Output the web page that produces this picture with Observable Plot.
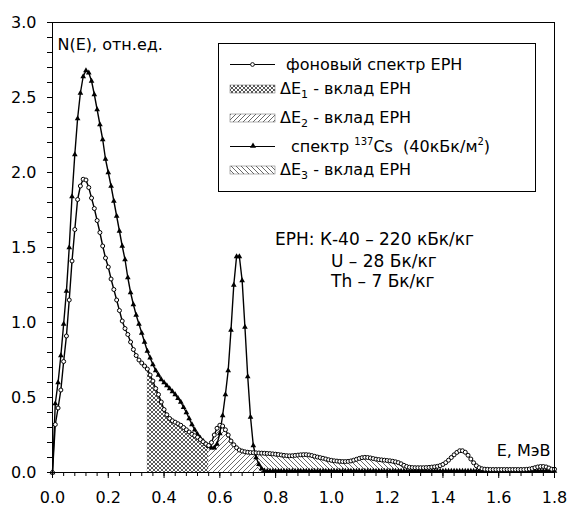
<!DOCTYPE html>
<html><head><meta charset="utf-8">
<script src="https://cdn.jsdelivr.net/npm/d3@7"></script>
<script src="https://cdn.jsdelivr.net/npm/@observablehq/plot@0.6"></script>
<style>body{margin:0;background:#fff} svg{display:block} text{white-space:pre}</style>
</head><body><div id="chart"></div>
<script>
// Background spectrum (ЕРН), 0.00..1.80 MeV in 0.01 MeV steps
const bgValues = [
0,0.32,0.43,0.55,0.74,0.91,1.15,1.41,1.62,1.82,
1.91,1.955,1.95,1.90,1.83,1.76,1.68,1.60,1.51,1.43,
1.37,1.29,1.22,1.15,1.08,1.01,0.96,0.92,0.87,0.82,
0.78,0.75,0.73,0.71,0.69,0.65,0.61,0.56,0.52,0.47,
0.42,0.385,0.36,0.345,0.335,0.325,0.315,0.30,0.285,0.27,
0.255,0.245,0.235,0.22,0.205,0.19,0.18,0.20,0.25,0.295,
0.315,0.31,0.285,0.25,0.21,0.185,0.165,0.15,0.143,0.138,
0.135,0.133,0.132,0.131,0.130,0.129,0.128,0.127,0.126,0.124,
0.122,0.12,0.117,0.114,0.112,0.111,0.112,0.114,0.116,0.118,
0.119,0.119,0.117,0.113,0.108,0.103,0.099,0.095,0.09,0.085,
0.081,0.078,0.076,0.074,0.073,0.073,0.074,0.077,0.082,0.088,
0.094,0.099,0.101,0.10,0.097,0.093,0.089,0.086,0.084,0.082,
0.08,0.078,0.075,0.071,0.066,0.058,0.048,0.04,0.035,0.033,
0.032,0.032,0.032,0.032,0.033,0.034,0.036,0.038,0.041,0.046,
0.054,0.066,0.082,0.10,0.118,0.134,0.145,0.145,0.135,0.115,
0.09,0.065,0.045,0.032,0.025,0.022,0.021,0.02,0.02,0.02,
0.02,0.02,0.02,0.02,0.02,0.02,0.02,0.02,0.02,0.02,
0.021,0.023,0.027,0.032,0.037,0.04,0.04,0.037,0.03,0.022,
0.022
];
// 137Cs spectrum (40 кБк/м2)
const csValues = [
0,0.46,0.60,0.78,0.99,1.21,1.50,1.84,2.12,2.36,
2.53,2.64,2.68,2.665,2.61,2.52,2.42,2.32,2.22,2.09,
2.00,1.91,1.81,1.71,1.61,1.51,1.42,1.30,1.20,1.12,
1.05,0.99,0.93,0.87,0.81,0.765,0.72,0.68,0.65,0.62,
0.60,0.58,0.56,0.54,0.52,0.495,0.47,0.435,0.40,0.36,
0.32,0.285,0.255,0.23,0.21,0.19,0.175,0.165,0.165,0.19,
0.26,0.38,0.52,0.68,0.95,1.25,1.44,1.44,1.28,0.97,
0.64,0.37,0.18,0.10,0.055,0.025,0.012,0.01,0.01,0.01,
0.01,0.01,0.01,0.01,0.01,0.01,0.01,0.01,0.01,0.01,
0.01,0.01,0.01,0.01,0.01,0.01,0.01,0.01,0.01,0.01,
0.01,0.01,0.01,0.01,0.01,0.01,0.01,0.01,0.01,0.01,
0.01,0.01,0.01,0.01,0.01,0.01,0.01,0.01,0.01,0.01,
0.01,0.01,0.01,0.01,0.01,0.01,0.01,0.01,0.01,0.01,
0.01,0.01,0.01,0.01,0.01,0.01,0.01,0.01,0.01,0.01,
0.01,0.01,0.01,0.01,0.01,0.01,0.01,0.01,0.01,0.01,
0.01,0.01,0.01,0.01,0.01,0.01,0.01,0.01,0.01,0.01,
0.01,0.01,0.01,0.01,0.01,0.01,0.01,0.01,0.01,0.01,
0.01,0.01,0.01,0.01,0.01,0.01,0.01,0.01,0.01,0.01,
0.01
];
const energyStep = 0.01; // MeV channel width
const energy = bgValues.map((_, i) => Math.round(i * energyStep * 100) / 100);
const deltaBounds = [0.34, 0.56, 0.74, 1.27]; // ΔE1, ΔE2, ΔE3 limits, MeV
const xMajorTicks = [0, 0.2, 0.4, 0.6, 0.8, 1.0, 1.2, 1.4, 1.6, 1.8];
const xMinorTicks = [0,0.04,0.08,0.12,0.16,0.2,0.24,0.28,0.32,0.36,0.4,0.44,0.48,0.52,0.56,0.6,0.64,0.68,0.72,0.76,0.8,0.84,0.88,0.92,0.96,1.0,1.04,1.08,1.12,1.16,1.2,1.24,1.28,1.32,1.36,1.4,1.44,1.48,1.52,1.56,1.6,1.64,1.68,1.72,1.76,1.8];
const yMajorTicks = [0, 0.5, 1.0, 1.5, 2.0, 2.5, 3.0];
const yMinorTicks = [0,0.1,0.2,0.3,0.4,0.5,0.6,0.7,0.8,0.9,1.0,1.1,1.2,1.3,1.4,1.5,1.6,1.7,1.8,1.9,2.0,2.1,2.2,2.3,2.4,2.5,2.6,2.7,2.8,2.9,3.0];
const yTitle = "N(E), отн.ед.";
const xTitle = "E, МэВ";
const noteLines = ["ЕРН: К-40 – 220 кБк/кг", "U – 28 Бк/кг", "Th – 7 Бк/кг"];

const rows = energy.map((E, i) => ({E, bg: bgValues[i], cs: csValues[i]}));
const eps = 1e-6;
const inRange = (a, b) => rows.filter(d => d.E >= a - eps && d.E <= b + eps);
const patterns = ["url(#hx)", "url(#hf)", "url(#hb)"];

const font = "DejaVu Sans";
const chart = Plot.plot({
  width: 569, height: 507,
  marginLeft: 52, marginRight: 15, marginTop: 22, marginBottom: 35,
  style: {fontFamily: font, fontSize: "16px", background: "#fff", color: "#000"},
  x: {domain: [0, 1.8], label: null},
  y: {domain: [0, 3], label: null},
  marks: [
    Plot.areaY(inRange(deltaBounds[0], deltaBounds[1]), {x: "E", y: "bg", fill: patterns[0]}),
    Plot.areaY(inRange(deltaBounds[1], deltaBounds[2]), {x: "E", y: "bg", fill: patterns[1]}),
    Plot.areaY(inRange(deltaBounds[2], deltaBounds[3]), {x: "E", y: "bg", fill: patterns[2]}),
    Plot.line(rows, {x: "E", y: "cs", stroke: "#000", strokeWidth: 1.4}),
    Plot.dot(rows, {x: "E", y: "cs", symbol: "triangle", r: 2.1, fill: "#000", stroke: "none"}),
    Plot.line(rows, {x: "E", y: "bg", stroke: "#000", strokeWidth: 1.4}),
    Plot.dot(rows, {x: "E", y: "bg", r: 2, fill: "#fff", stroke: "#000", strokeWidth: 1}),
    Plot.frame({stroke: "#000", strokeWidth: 1}),
    Plot.axisX({ticks: xMinorTicks, tickSize: 4, tickFormat: () => ""}),
    Plot.axisX({ticks: xMajorTicks, tickSize: 6, tickPadding: 13, tickFormat: d3.format(".1f"), fontSize: 16}),
    Plot.axisY({ticks: yMinorTicks, tickSize: 5, tickFormat: () => ""}),
    Plot.axisY({ticks: yMajorTicks, tickSize: 5, tickPadding: 11, tickFormat: d3.format(".1f"), fontSize: 16}),
    Plot.text([yTitle], {frameAnchor: "top-left", dx: 5, dy: 16, textAnchor: "start", fontSize: 16}),
    Plot.text([xTitle], {frameAnchor: "bottom-right", dx: -4, dy: -17, textAnchor: "end", fontSize: 16})
  ]
});

const svg = d3.select(chart);
const defs = svg.insert("defs", ":first-child");
const px = defs.append("pattern").attr("id", "hx").attr("patternUnits", "userSpaceOnUse").attr("width", 4).attr("height", 4);
px.append("path").attr("d", "M0,0L4,4M4,0L0,4M-1,1L1,-1M3,5L5,3M-1,3L1,5M3,-1L5,1").attr("stroke", "#222").attr("stroke-width", 0.75).attr("fill", "none");
const pf = defs.append("pattern").attr("id", "hf").attr("patternUnits", "userSpaceOnUse").attr("width", 5).attr("height", 5);
pf.append("path").attr("d", "M0,5L5,0M-1,1L1,-1M4,6L6,4").attr("stroke", "#444").attr("stroke-width", 0.8).attr("fill", "none");
const pb = defs.append("pattern").attr("id", "hb").attr("patternUnits", "userSpaceOnUse").attr("width", 5).attr("height", 5);
pb.append("path").attr("d", "M0,0L5,5M-1,4L1,6M4,-1L6,1").attr("stroke", "#444").attr("stroke-width", 0.8).attr("fill", "none");

// Legend box
const L = svg.append("g").attr("font-family", font).attr("font-size", 16).attr("fill", "#000").attr("text-anchor", "start");
L.append("rect").attr("x", 218.5).attr("y", 43.5).attr("width", 317).attr("height", 148).attr("fill", "#fff").attr("stroke", "#000").attr("stroke-width", 1);
// row 1
L.append("line").attr("x1", 230).attr("x2", 275).attr("y1", 64.5).attr("y2", 64.5).attr("stroke", "#000").attr("stroke-width", 1.2);
L.append("circle").attr("cx", 252.5).attr("cy", 64.5).attr("r", 1.9).attr("fill", "#fff").attr("stroke", "#000").attr("stroke-width", 0.9);
L.append("text").attr("x", 286).attr("y", 70).text("фоновый спектр ЕРН");
// hatched rows
function deltaRow(y, pat, idx) {
  L.append("rect").attr("x", 230).attr("y", y - 8).attr("width", 45).attr("height", 8).attr("fill", pat).attr("stroke", "#666").attr("stroke-width", 0.5);
  const t = L.append("text").attr("x", 280).attr("y", y + 0.5);
  t.append("tspan").text("ΔE");
  t.append("tspan").attr("font-size", 11).attr("dy", 4).text(idx);
  t.append("tspan").attr("dy", -4).text(" - вклад ЕРН");
}
deltaRow(93, patterns[0], "1");
deltaRow(122, patterns[1], "2");
deltaRow(174, patterns[2], "3");
// row 4
L.append("line").attr("x1", 230).attr("x2", 275).attr("y1", 146.5).attr("y2", 146.5).attr("stroke", "#000").attr("stroke-width", 1.2);
L.append("path").attr("transform", "translate(253,146)").attr("d", d3.symbol(d3.symbolTriangle, 16)()).attr("fill", "#000");
const t4 = L.append("text").attr("x", 291).attr("y", 151.5);
t4.append("tspan").text("спектр ");
t4.append("tspan").attr("font-size", 10).attr("dy", -7).text("137");
t4.append("tspan").attr("dy", 7).text("Cs  (40кБк/м");
t4.append("tspan").attr("font-size", 10).attr("dy", -7).text("2");
t4.append("tspan").attr("dy", 7).text(")");

// ЕРН note
const N = svg.append("g").attr("font-family", font).attr("font-size", 17).attr("fill", "#000").attr("text-anchor", "start");
N.append("text").attr("x", 275).attr("y", 245).text(noteLines[0]);
N.append("text").attr("x", 331).attr("y", 266.5).text(noteLines[1]);
N.append("text").attr("x", 331).attr("y", 287).text(noteLines[2]);

document.getElementById("chart").append(chart);
</script>
</body></html>
